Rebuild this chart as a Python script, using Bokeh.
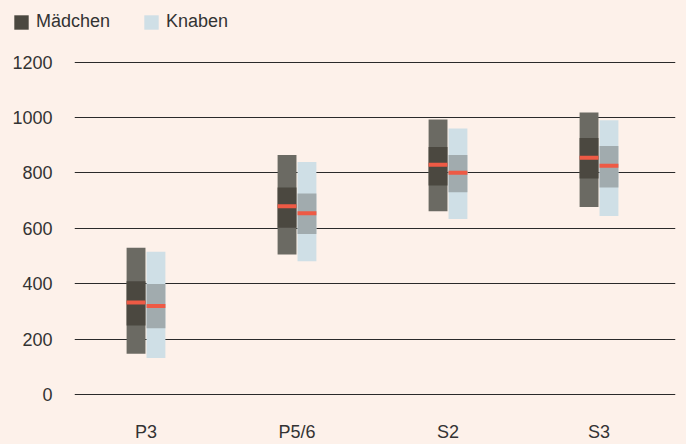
from bokeh.plotting import figure
from bokeh.layouts import column
from bokeh.models import Range1d, FixedTicker, Legend, LegendItem, ColumnDataSource
from bokeh.transform import dodge
from bokeh.embed import file_html
from bokeh.resources import INLINE

categories = ["P3", "P5/6", "S2", "S3"]
# Mädchen percentiles (5, 25, 50, 75, 95)
m_p5 = [147, 506, 662, 677]
m_p25 = [249, 602, 755, 780]
m_med = [332, 680, 830, 855]
m_p75 = [409, 748, 894, 926]
m_p95 = [530, 865, 993, 1018]
# Knaben percentiles
k_p5 = [132, 481, 634, 645]
k_p25 = [239, 580, 730, 748]
k_med = [320, 655, 801, 826]
k_p75 = [399, 726, 865, 897]
k_p95 = [516, 840, 961, 990]
y_ticks = [0, 200, 400, 600, 800, 1000, 1200]
series_labels = ["Mädchen", "Knaben"]

BG = "#fdf1ea"
M_OUT, M_IN = "#6b6a63", "#4b4840"
K_OUT, K_IN = "#cfdfe6", "#a1abae"
MED = "#ee5a45"
TXT = "#333333"
FONT = "Liberation Sans"
FS = "18px"

idx = list(range(len(categories)))
src = ColumnDataSource(dict(x=idx, m_p5=m_p5, m_p25=m_p25, m_med=m_med, m_p75=m_p75, m_p95=m_p95,
                            k_p5=k_p5, k_p25=k_p25, k_med=k_med, k_p75=k_p75, k_p95=k_p95))

p = figure(width=686, height=404, output_backend="svg", toolbar_location=None,
           x_range=Range1d(-0.4735, 3.5066), y_range=Range1d(-17.8, 1278.3),
           min_border_left=74, min_border_right=11, min_border_top=0, min_border_bottom=40)
p.background_fill_color = BG
p.border_fill_color = BG
p.outline_line_color = None

W = 0.125
OFF = 0.066
xm = dodge("x", -OFF, range=p.x_range)
xk = dodge("x", OFF, range=p.x_range)

p.vbar(x=xm, width=W, bottom="m_p5", top="m_p95", source=src, fill_color=M_OUT, line_color=None)
p.vbar(x=xm, width=W, bottom="m_p25", top="m_p75", source=src, fill_color=M_IN, line_color=None)
p.rect(x=xm, y="m_med", width=W, height=4, height_units="screen", source=src, fill_color=MED, line_color=None)

p.vbar(x=xk, width=W, bottom="k_p5", top="k_p95", source=src, fill_color=K_OUT, line_color=None)
p.vbar(x=xk, width=W, bottom="k_p25", top="k_p75", source=src, fill_color=K_IN, line_color=None)
p.rect(x=xk, y="k_med", width=W, height=4, height_units="screen", source=src, fill_color=MED, line_color=None)

# axes
p.xaxis.ticker = FixedTicker(ticks=idx)
p.xaxis.major_label_overrides = {i: c for i, c in zip(idx, categories)}
p.yaxis.ticker = FixedTicker(ticks=y_ticks)
for ax in (p.xaxis[0], p.yaxis[0]):
    ax.axis_line_color = None
    ax.major_tick_line_color = None
    ax.minor_tick_line_color = None
    ax.major_tick_out = 0
    ax.major_tick_in = 0
    ax.minor_tick_out = 0
    ax.minor_tick_in = 0
    ax.major_label_text_font = FONT
    ax.major_label_text_font_size = FS
    ax.major_label_text_color = TXT
p.yaxis.major_label_standoff = 22
p.xaxis.major_label_standoff = 22

p.xgrid.grid_line_color = None
p.ygrid.grid_line_color = "#2a2a2a"
p.ygrid.grid_line_width = 1

# legend strip above the chart
lf = figure(width=686, height=40, output_backend="svg", toolbar_location=None,
            x_range=Range1d(10, 11), y_range=Range1d(5000, 5001),
            x_axis_type=None, y_axis_type=None,
            min_border_left=0, min_border_right=0, min_border_top=0, min_border_bottom=0)
lf.grid.visible = False
lf.background_fill_color = BG
lf.border_fill_color = BG
lf.outline_line_color = None
for fig in (lf, p):
    try:
        fig.frame_align = False
    except Exception:
        pass
# swatch renderers (their data lies outside this strip's view; only the legend glyphs show)
gm = lf.vbar(x="x", bottom="m_p25", top="m_p75", width=0.1, source=src, fill_color=M_IN, line_color=None)
gk = lf.vbar(x="x", bottom="k_p5", top="k_p95", width=0.1, source=src, fill_color=K_OUT, line_color=None)
legend = Legend(items=[LegendItem(label=series_labels[0], renderers=[gm]),
                       LegendItem(label=series_labels[1], renderers=[gk])],
                orientation="horizontal", location=(12, 8),
                background_fill_alpha=0, border_line_color=None,
                label_text_font=FONT, label_text_font_size=FS, label_text_color=TXT,
                glyph_width=18, glyph_height=18, label_standoff=6, spacing=32,
                padding=0, margin=0, label_height=18)
lf.add_layout(legend, "center")

layout = column(lf, p, spacing=0, styles={"background-color": BG})
open("out.html", "w").write(file_html(layout, INLINE))
